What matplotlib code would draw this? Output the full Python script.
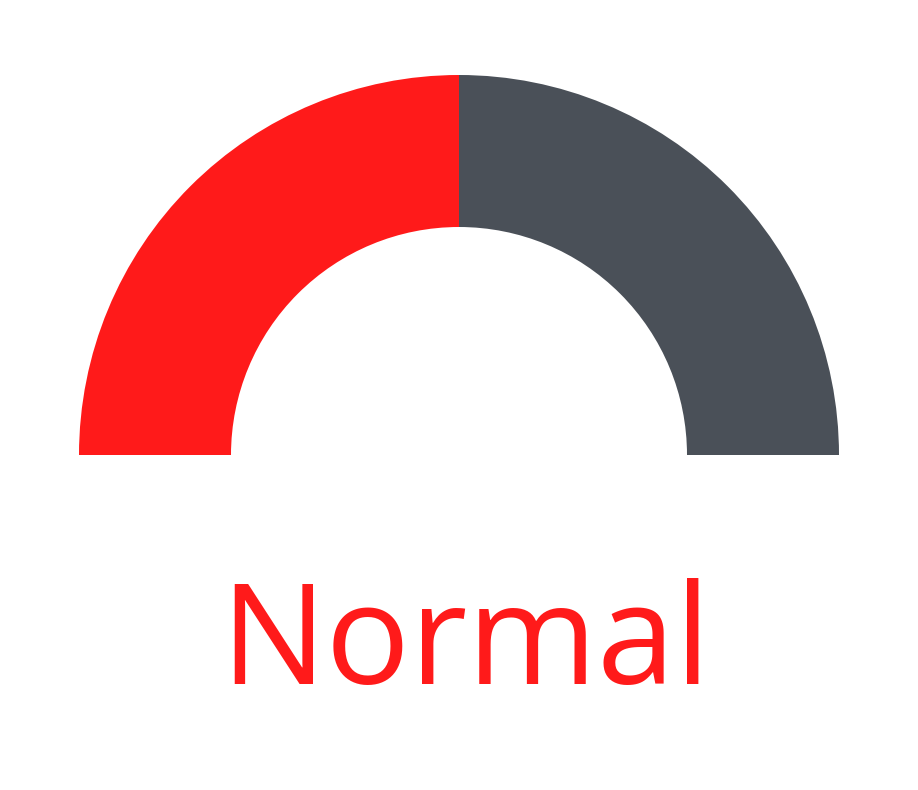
import matplotlib
matplotlib.use("Agg")
import matplotlib.pyplot as plt

# gauge values: filled part, remaining part, hidden lower half
values = [50, 50, 100]
colors = ["#FF1A1A", "#4A5058", "none"]
label = "Normal"

W, H = 918, 790
fig = plt.figure(figsize=(W / 100, H / 100), dpi=100)
ax = fig.add_axes([0, 0, 1, 1])
ax.set_xlim(0, W)
ax.set_ylim(0, H)
ax.set_aspect("equal")
ax.axis("off")

# center of the gauge at (459, 455) in image pixels
cx, cy = 459, H - 455
outer, inner = 380, 228
ax.pie(values, colors=colors, startangle=180, counterclock=False,
       radius=outer, center=(cx, cy),
       wedgeprops=dict(width=outer - inner, edgecolor="none", linewidth=0),
       frame=True)
ax.set_xlim(0, W)
ax.set_ylim(0, H)
ax.axis("off")

ax.text(465, H - 684, label, color="#FF1A1A", fontsize=101,
        family="Open Sans", ha="center", va="baseline")

fig.savefig("out.png", dpi=100, facecolor="white")
